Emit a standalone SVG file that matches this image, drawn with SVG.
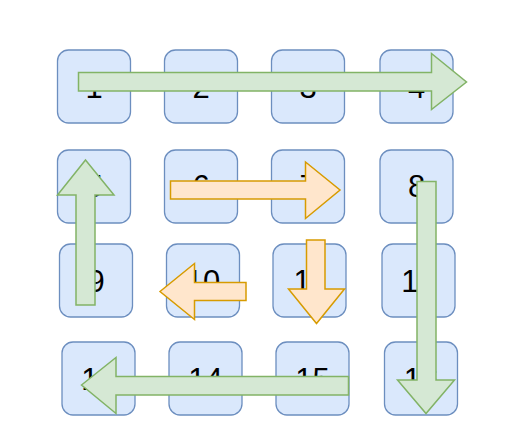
<svg xmlns="http://www.w3.org/2000/svg" width="511" height="447" viewBox="0 0 511 447">
<style>
.box{fill:#dae8fc;stroke:#6c8ebf;stroke-width:1.3}
.lbl{font-family:"Liberation Sans",Arial,sans-serif;font-size:31px;fill:#000;text-anchor:middle}
.g{fill:#d5e8d4;stroke:#82b366;stroke-width:1.5;stroke-linejoin:miter}
.o{fill:#ffe6cc;stroke:#d79b00;stroke-width:1.5;stroke-linejoin:miter}
</style>
<rect width="511" height="447" fill="#ffffff"/>
<g id="n1"><rect class="box" x="57.5" y="50" width="73" height="73" rx="11"/><text class="lbl" x="94" y="97.7">1</text></g>
<g id="n2"><rect class="box" x="164.5" y="50" width="73" height="73" rx="11"/><text class="lbl" x="201" y="97.7">2</text></g>
<g id="n3"><rect class="box" x="271.5" y="50" width="73" height="73" rx="11"/><text class="lbl" x="308" y="97.7">3</text></g>
<g id="n4"><rect class="box" x="380" y="50" width="73" height="73" rx="11"/><text class="lbl" x="416.5" y="97.7">4</text></g>
<g id="n5"><rect class="box" x="57.5" y="150" width="73" height="73" rx="11"/><text class="lbl" x="94" y="197.3">5</text></g>
<g id="n6"><rect class="box" x="164.5" y="150" width="73" height="73" rx="11"/><text class="lbl" x="201" y="197.3">6</text></g>
<g id="n7"><rect class="box" x="271.5" y="150" width="73" height="73" rx="11"/><text class="lbl" x="308" y="197.3">7</text></g>
<g id="n8"><rect class="box" x="380" y="150" width="73" height="73" rx="11"/><text class="lbl" x="416.5" y="197.3">8</text></g>
<g id="n9"><rect class="box" x="59.5" y="244" width="73" height="73" rx="11"/><text class="lbl" x="96" y="291.7">9</text></g>
<g id="n10"><rect class="box" x="166.5" y="244" width="73" height="73" rx="11"/><text class="lbl" x="203" y="291.7">10</text></g>
<g id="n11"><rect class="box" x="273" y="244" width="73" height="73" rx="11"/><text class="lbl" x="309.5" y="291.7">11</text></g>
<g id="n12"><rect class="box" x="382" y="244" width="73" height="73" rx="11"/><text class="lbl" x="418.5" y="291.7">12</text></g>
<g id="n13"><rect class="box" x="62" y="342" width="73" height="73" rx="11"/><text class="lbl" x="98.5" y="389.5">13</text></g>
<g id="n14"><rect class="box" x="169" y="342" width="73" height="73" rx="11"/><text class="lbl" x="205.5" y="389.5">14</text></g>
<g id="n15"><rect class="box" x="276" y="342" width="73" height="73" rx="11"/><text class="lbl" x="312.5" y="389.5">15</text></g>
<g id="n16"><rect class="box" x="384.5" y="342" width="73" height="73" rx="11"/><text class="lbl" x="421" y="389.5">16</text></g>
<g id="connectors">
<polygon class="g" points="78.5,72.5 431.5,72.5 431.5,53.5 466.5,82 431.5,109.5 431.5,91 78.5,91"/>
<polygon class="o" points="170.5,181 305.5,181 305.5,162 340,190 305.5,218.5 305.5,199 170.5,199"/>
<polygon class="g" points="85.5,160 114,195 95,195 95,305 76,305 76,195 57.5,195"/>
<polygon class="g" points="417,181.5 436,181.5 436,380 454.5,380 426,413.5 397.5,380 417,380"/>
<polygon class="o" points="160,291.5 194.5,263.5 194.5,282.5 246,282.5 246,300.5 194.5,300.5 194.5,319.5"/>
<polygon class="o" points="306.5,240 325,240 325,289 344.5,289 316.5,323.5 288.5,289 306.5,289"/>
<polygon class="g" points="81.5,385 116,357.5 116,376.5 348.5,376.5 348.5,395 116,395 116,413.5"/>
</g>
</svg>
